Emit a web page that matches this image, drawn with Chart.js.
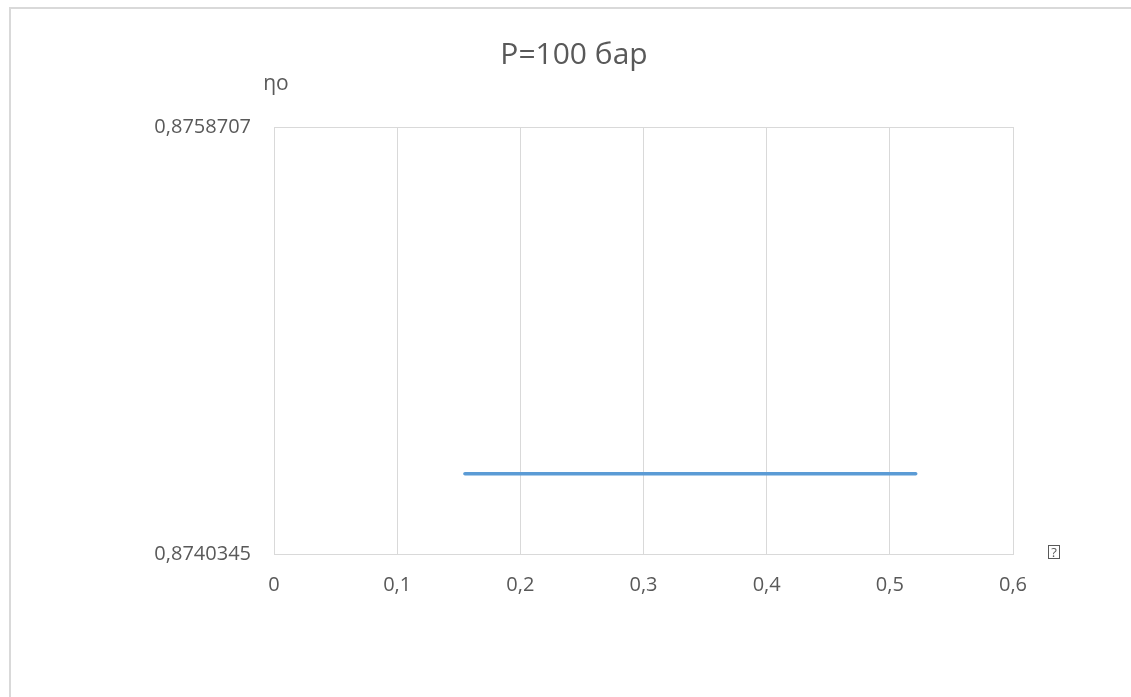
<!DOCTYPE html>
<html>
<head>
<meta charset="utf-8">
<script src="https://cdn.jsdelivr.net/npm/chart.js@4/dist/chart.umd.min.js"></script>
<style>
html,body{margin:0;padding:0;background:#fff;}
#wrap{width:1131px;height:697px;position:relative;}
</style>
</head>
<body>
<div id="wrap"><canvas id="c" width="1131" height="697"></canvas></div>
<script>
const chartTitle = "P=100 бар";
const yAxisTitle = "ηо";
const xAxisTitle = "?";
const xValues = [0.155, 0.521];
const yValues = [0.8743800, 0.8743800];
const yMin = 0.8740345;
const yMax = 0.8758707;
const xMin = 0, xMax = 0.6, xStep = 0.1;

const fmt = v => String(Number(v.toFixed(7))).replace('.', ',');
const gray = '#d9d9d9';
const textCol = '#595959';
const FONT = '"Open Sans", "Liberation Sans", sans-serif';

const decor = {
  id: 'decor',
  beforeDraw(chart) {
    const ctx = chart.ctx;
    ctx.save();
    ctx.fillStyle = '#fff';
    ctx.fillRect(0, 0, chart.width, chart.height);
    ctx.strokeStyle = gray;
    ctx.lineWidth = 2;
    ctx.strokeRect(10, 8, 1300, 900);
    ctx.restore();
  },
  afterDraw(chart) {
    const ctx = chart.ctx;
    ctx.save();
    ctx.fillStyle = textCol;
    ctx.textBaseline = 'middle';
    ctx.textAlign = 'center';
    ctx.font = '30px ' + FONT;
    ctx.fillText(chartTitle, 574, 55);
    ctx.font = '21px ' + FONT;
    ctx.fillText(yAxisTitle, 276, 84);
    // x axis title (unrendered glyph box)
    ctx.font = '13px ' + FONT;
    ctx.fillText(xAxisTitle, 1054, 553);
    ctx.strokeStyle = textCol;
    ctx.lineWidth = 1;
    ctx.strokeRect(1048.5, 545.5, 11, 13);
    ctx.restore();
  }
};

new Chart(document.getElementById('c'), {
  type: 'line',
  data: {
    datasets: [{
      data: xValues.map((x, i) => ({x, y: yValues[i]})),
      borderColor: '#5b9bd5',
      borderWidth: 3.5,
      pointRadius: 0,
      borderCapStyle: 'round',
      fill: false,
      tension: 0
    }]
  },
  options: {
    responsive: false,
    animation: false,
    devicePixelRatio: 1,
    layout: { padding: { left: 0, right: 118, top: 127, bottom: 0 } },
    plugins: { legend: { display: false }, title: { display: false }, tooltip: { enabled: false } },
    scales: {
      x: {
        type: 'linear', min: xMin, max: xMax,
        ticks: { stepSize: xStep, color: textCol, font: { family: FONT, size: 20 }, padding: 19,
          callback: v => fmt(v), maxRotation: 0 },
        grid: { color: gray, lineWidth: 1, drawTicks: false },
        border: { color: gray, width: 1 },
        afterFit: s => { s.height = 697 - 554; }
      },
      y: {
        type: 'linear', min: yMin, max: yMax,
        afterBuildTicks: s => { s.ticks = [{value: yMin}, {value: yMax}]; },
        ticks: { color: textCol, font: { family: FONT, size: 20 }, padding: 23,
          callback: v => fmt(v) },
        grid: { color: gray, lineWidth: 1, drawTicks: false },
        border: { color: gray, width: 1 },
        afterFit: s => { s.width = 274; }
      }
    }
  },
  plugins: [decor]
});
</script>
</body>
</html>
